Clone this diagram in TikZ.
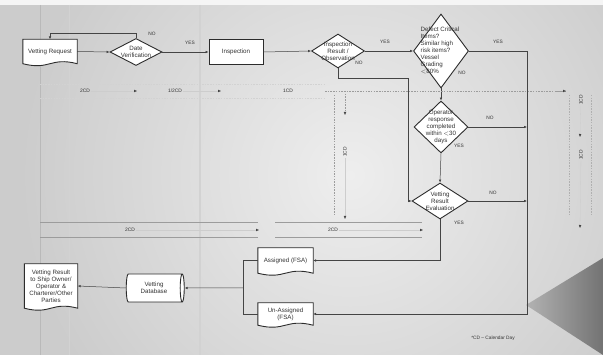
\documentclass[tikz,border=0pt]{standalone}
\usepackage{fontspec}
\setmainfont{Liberation Sans}
\usetikzlibrary{shapes.geometric,arrows.meta,calc}
\pgfdeclarelayer{back}\pgfdeclarelayer{bg}\pgfsetlayers{back,bg,main}
\definecolor{linec}{HTML}{444444}
\definecolor{nodec}{HTML}{2C2C2C}
\definecolor{txtc}{HTML}{333333}
\definecolor{tlc}{HTML}{9C9C9C}
\definecolor{bgdark}{HTML}{CCCCCC}
\definecolor{bglight}{HTML}{EEEEEE}
\tikzset{
 base/.style={font=\fontsize{6.2}{7}\selectfont, text=txtc, align=center, inner sep=0pt},
 dia/.style={diamond, draw=nodec, fill=white, line width=0.9pt, inner sep=0pt},
 boxn/.style={rectangle, draw=nodec, fill=white, line width=0.9pt, base},
 docn/.style={rectangle, base, minimum width=55pt},
 shp/.style={draw=nodec, fill=white, line width=0.9pt},
 flow/.style={draw=linec, line width=0.5pt, -{Latex[length=3pt,width=2.6pt]}},
 plain/.style={draw=linec, line width=0.5pt},
 yn/.style={font=\fontsize{4.8}{5}\selectfont, text=txtc, inner sep=0pt},
 tl/.style={draw=tlc, line width=0.45pt},
 tla/.style={draw=tlc!50, line width=0.3pt, -{Latex[length=3pt,width=2.6pt,color=linec]}},
 tlab/.style={font=\fontsize{4.9}{5}\selectfont, text=txtc, inner sep=0.8pt},
 dtl/.style={draw=tlc, line width=0.45pt, dash pattern=on 1.5pt off 1.2pt},
 scan/.style={draw=gray!55, line width=0.9pt},
}
\newcommand\docout[1]{\begin{pgfonlayer}{bg}\draw[shp] (#1.south west) -- (#1.north west) -- (#1.north east) -- (#1.south east) .. controls ([yshift=7pt]#1.south) and ([yshift=-7pt]#1.south) .. cycle;\end{pgfonlayer}}
\begin{document}
\begin{tikzpicture}[x=1pt,y=-1pt]
\useasboundingbox (0,0) rectangle (603,355);
% background (scan)
\begin{pgfonlayer}{back}
\begin{scope}
\clip (0,0) rectangle (603,355);
\fill[bgdark] (0,0) rectangle (603,355);
\shade[inner color=bglight, outer color=bgdark] (350,175) circle (330);
\fill[white!92!gray] (0,0) rectangle (603,5);
\draw[scan] (40,5) -- (40,355);
\draw[scan, draw=gray!35] (69,5) -- (69,355);
\draw[scan, draw=gray!35, line width=1.2pt] (200,5) -- (200,355);
\shade[left color=black!30, right color=black!55] (526,305) -- (603,258) -- (603,355) -- cycle;
\end{scope}
\end{pgfonlayer}

% main nodes
\node[docn, minimum width=54pt, minimum height=24pt] (req) at (50,51.5) {Vetting Request};
\docout{req}
\node[dia, minimum width=52pt, minimum height=27pt, label={[base]center:Date\\Verification}] (date) at (136,52) {};
\node[boxn, minimum width=54pt, minimum height=25pt] (insp) at (236,52) {Inspection};
\node[dia, minimum width=53pt, minimum height=34pt, label={[base]center:Inspection\\Result /\\Observation}] (res) at (338,51) {};
\node[dia, minimum width=55pt, minimum height=74pt, label={[base, align=left, xshift=-1pt]center:Defect Critical\\Items?\\Similar high\\risk items?\\Vessel\\Grading\\$<$80\%}] (master) at (441,51) {};
\node[dia, minimum width=54pt, minimum height=52pt, label={[base]center:Operator\\response\\completed\\within $<$30\\days}] (op) at (441,127) {};
\node[dia, minimum width=56pt, minimum height=36pt, label={[base]center:Vetting\\Result\\Evaluation}] (vr) at (440,201) {};
\node[docn, minimum height=25pt] (assigned) at (285.5,260.5) {Assigned (FSA)};
\docout{assigned}
\node[docn, minimum height=22pt] (unassigned) at (285.5,314) {Un-Assigned\\(FSA)};
\docout{unassigned}
\node[cylinder, draw=nodec, fill=white, line width=0.9pt, base, minimum width=28pt, minimum height=58pt, aspect=0.35] (db) at (154,288) {Vetting\\Database};
\node[docn, minimum width=53pt, minimum height=44pt] (out) at (51,286) {Vetting Result\\to Ship Owner/\\Operator \&\\Charterer/Other\\Parties};
\docout{out}

% connectors
\coordinate (dn) at (50,33);
\coordinate (rn1) at (408,78);
\coordinate (busB) at (527,314);
\coordinate (j1) at (243,288);
\draw[flow] (req.east) -- (date.west);
\draw[flow] (date.north) |- (dn) -- (req.north);
\draw[flow] (date.east) -- (insp.west);
\draw[flow] (insp.east) -- (res.west);
\draw[flow] (res.east) -- (master.west);
\draw[flow] (res.south) |- (rn1) |- (vr.west);
\draw[flow] (master.south) -- (op.north);
\draw[flow] (master.east) -| (busB) -- (unassigned.east);
\draw[flow] (op.east) -- (op.east -| busB);
\draw[flow] (op.south) -- (vr.north);
\draw[flow] (vr.east) -- (vr.east -| busB);
\draw[flow] (vr.south) |- (assigned.east);
\draw[plain] (assigned.west) -| (j1);
\draw[plain] (unassigned.west) -| (j1);
\draw[flow] (j1) -- (db.east);
\draw[flow] (db.west) -- (out.east);

% yes / no labels
\node[yn] (l1) at (152,34) {NO};
\node[yn] (l2) at (190,43) {YES};
\node[yn] (l3) at (385,42) {YES};
\node[yn] (l4) at (359,63) {NO};
\node[yn] (l5) at (498,42) {YES};
\node[yn] (l6) at (462,73) {NO};
\node[yn] (l7) at (490,118) {NO};
\node[yn] (l8) at (459,146) {YES};
\node[yn] (l9) at (493,193) {NO};
\node[yn] (l10) at (459,223) {YES};

% time lines - top row
\draw[dtl, draw=tlc!45] (40,84) -- (325,84);
\draw[dtl, draw=tlc!45] (40,98) -- (325,98);
\node[tlab] (t1) at (85,91) {2CD};
\coordinate (a1) at (137,91);
\node[tlab] (t2) at (175,91) {1/2CD};
\coordinate (a2) at (221,91);
\node[tlab] (t3) at (288,91) {1CD};
\coordinate (k0) at (325,91);
\coordinate (k1) at (345,91);
\coordinate (a3) at (345,115);
\coordinate (a4) at (566,91);
\draw[tla] (t1) -- (a1);
\draw[tla] (t2) -- (a2);
\draw[dtl] (k0) -- (a4);
\draw[tla, draw=tlc] (556,91) -- (a4);
\draw[tla, draw=tlc, dash pattern=on 1.5pt off 1.2pt] (k1) -- (a3);
% middle vertical
\draw[dtl] (334,95) -- (334,215);
\node[tlab, rotate=90] (m1) at (345,152) {1CD};
\coordinate (a5) at (345,219);
\draw[tla] (m1) -- (a5);
% right vertical
\draw[dtl, draw=tlc!80] (569,95) -- (569,215);
\draw[dtl, draw=tlc!80] (591,95) -- (591,215);
\node[tlab, rotate=90] (r1) at (581,100) {1CD};
\coordinate (a6) at (580,137);
\node[tlab, rotate=90] (r2) at (581,155) {1CD};
\coordinate (a7) at (580,228);
\draw[tla] (r1) -- (a6);
\draw[tla] (r2) -- (a7);
% bottom row
\draw[tl] (40,222) -- (258,222);
\draw[tl] (40,237) -- (258,237);
\draw[tl] (275,222) -- (422,222);
\draw[tl] (275,237) -- (422,237);
\node[tlab] (b1) at (130,230) {2CD};
\coordinate (a8) at (259,230);
\node[tlab] (b2) at (333,230) {2CD};
\coordinate (a9) at (423,230);
\draw[tla] (b1) -- (a8);
\draw[tla] (b2) -- (a9);

% footnote
\node[font=\fontsize{4.8}{5}\selectfont, text=txtc, inner sep=0pt] (fn) at (493,338) {*CD -- Calendar Day};
\end{tikzpicture}
\end{document}
